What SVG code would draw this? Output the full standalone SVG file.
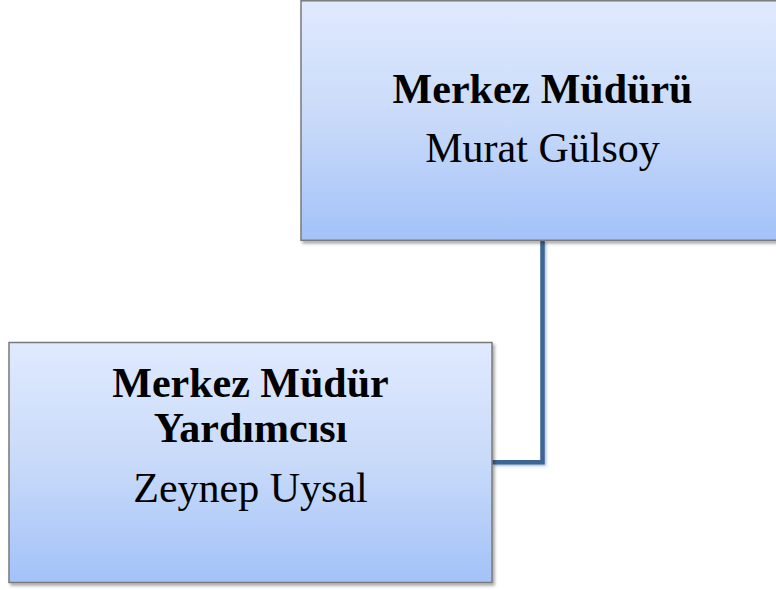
<svg xmlns="http://www.w3.org/2000/svg" width="776" height="590" viewBox="0 0 776 590">
<style>
.box{stroke:#7a7a7a;stroke-width:1.5;filter:url(#sh)}
.t{font-family:"Liberation Serif","Times New Roman",serif;font-size:42px;fill:#000;text-anchor:middle}
.b{font-weight:bold}
.conn{fill:none;stroke:#3d6596;stroke-width:4.5;stroke-linejoin:miter}
</style>
<defs>
<linearGradient id="g" x1="0" y1="0" x2="0" y2="1">
<stop offset="0" stop-color="#e0eafe"/>
<stop offset="0.5" stop-color="#c8daf9"/>
<stop offset="1" stop-color="#a3c2f9"/>
</linearGradient>
<filter id="sh" x="-5%" y="-5%" width="115%" height="115%">
<feDropShadow dx="2" dy="2.5" stdDeviation="1.8" flood-color="#000" flood-opacity="0.35"/>
</filter>
<filter id="lsh" x="-50%" y="-5%" width="200%" height="115%">
<feDropShadow dx="1.5" dy="1.5" stdDeviation="0.8" flood-color="#5a7fb0" flood-opacity="0.5"/>
</filter>
</defs>
<g id="connectors">
<path class="conn" filter="url(#lsh)" d="M542.5 240.5 V462.3 H492"/>
</g>
<g id="n1">
<rect class="box" x="301" y="0.8" width="483" height="239.5" fill="url(#g)"/>
<text class="t b" x="542.5" y="102.7">Merkez Müdürü</text>
<text class="t" x="542.5" y="161.7">Murat Gülsoy</text>
</g>
<g id="n2">
<rect class="box" x="9" y="342.5" width="483" height="240" fill="url(#g)"/>
<text class="t b" x="250.5" y="397.3">Merkez Müdür</text>
<text class="t b" x="250.5" y="441.7">Yardımcısı</text>
<text class="t" x="250.5" y="501.7">Zeynep Uysal</text>
</g>
</svg>
